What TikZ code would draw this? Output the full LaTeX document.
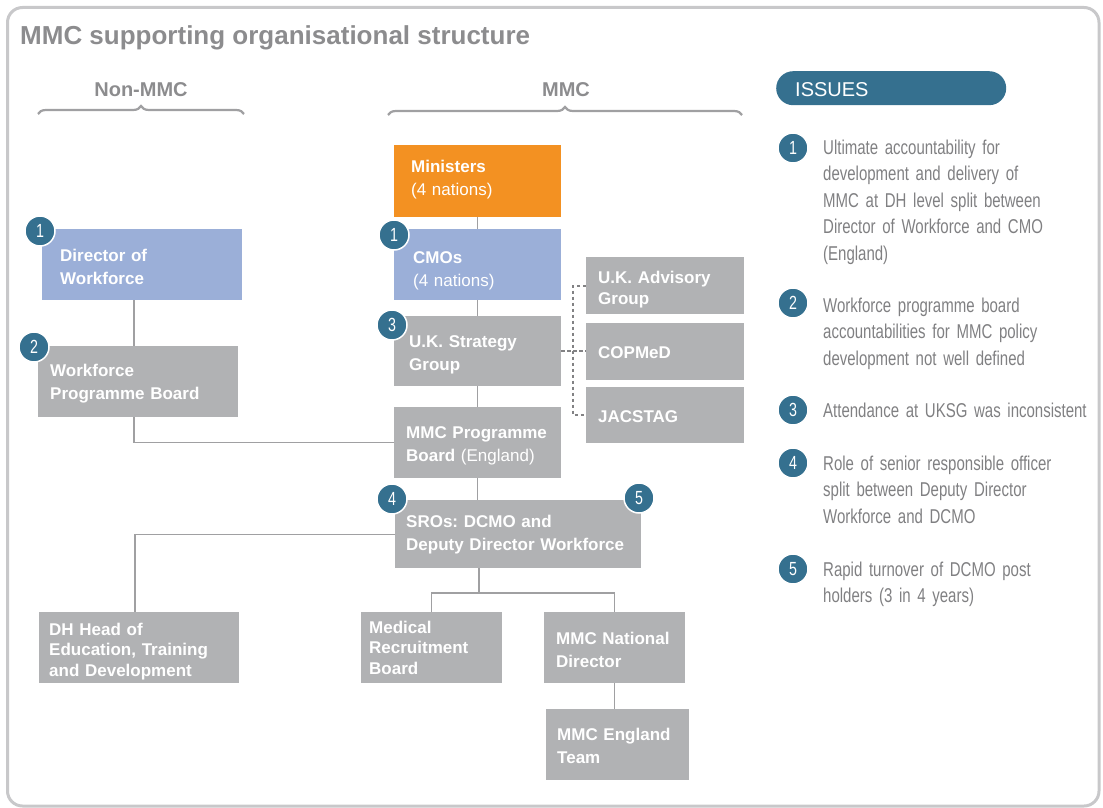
\documentclass[tikz,border=0pt]{standalone}
\usepackage{fontspec}
\setmainfont{Liberation Sans}
\newfontfamily\condfont[FakeStretch=0.75]{Liberation Sans}
\usetikzlibrary{decorations.pathreplacing}
\definecolor{boxgrey}{RGB}{177,178,180}
\definecolor{boxblue}{RGB}{155,175,216}
\definecolor{boxorange}{RGB}{243,145,34}
\definecolor{badgeblue}{RGB}{53,112,143}
\definecolor{titlegrey}{RGB}{140,140,142}
\definecolor{textgrey}{RGB}{128,128,130}
\definecolor{linegrey}{RGB}{160,160,162}
\definecolor{framegrey}{RGB}{200,200,202}
\definecolor{dashgrey}{RGB}{130,130,132}
\frenchspacing
\begin{document}
\begin{tikzpicture}[x=1pt,y=-1pt,
  box/.style={anchor=north west, inner ysep=0pt, align=left, text=white,
    font=\fontsize{17}{23}\selectfont\bfseries},
  box3/.style={box, font=\fontsize{17}{20.5}\selectfont\bfseries},
  badge/.style={circle, fill=badgeblue, draw=white, line width=1.5pt,
    minimum size=30pt, inner sep=0pt, text=white,
    font=\condfont\fontsize{19}{19}\selectfont},
  issue/.style={anchor=base west, inner sep=0pt, text width=300pt, align=left,
    text=textgrey, font=\condfont\fontsize{20}{26.5}\selectfont},
  hdr/.style={anchor=base, inner sep=0pt, text=titlegrey,
    font=\fontsize{20}{20}\selectfont\bfseries},
  conn/.style={draw=linegrey, line width=1.3pt},
  dconn/.style={draw=dashgrey, line width=1.6pt, dash pattern=on 3.5pt off 2.5pt},
  brc/.style={draw=linegrey, line width=2.2pt, decorate,
    decoration={brace, amplitude=8pt}}
]
\useasboundingbox (0,0) rectangle (1103,808);
% frame
\draw[framegrey, line width=3pt, rounded corners=15pt] (7.5,7.5) rectangle (1099,806);

% title
\node[anchor=base west, inner sep=0pt, text=titlegrey,
  font=\fontsize{26}{26}\selectfont\bfseries] (title) at (20,45)
  {MMC supporting organisational structure};

% headers and braces
\node[hdr] (hnon) at (141,96) {Non-MMC};
\node[hdr] (hmmc) at (566,96) {MMC};
\draw[brc] (38,114) -- (244,114);
\draw[brc] (388,115) -- (742,115);

% boxes
\node[box, fill=boxorange, text width=133pt, inner xsep=17pt,
  text height=27pt, text depth=45pt] (min) at (394,145)
  {Ministers\\\mdseries(4 nations)};
\node[box, fill=boxblue, text width=129pt, inner xsep=19pt,
  text height=34pt, text depth=37pt] (cmo) at (394,229)
  {CMOs\\\mdseries(4 nations)};
\node[box, fill=boxblue, text width=164pt, inner xsep=18pt,
  text height=32pt, text depth=39pt] (dow) at (42,229)
  {Director of\\Workforce};
\node[box, fill=boxgrey, text width=137pt, inner xsep=15pt,
  text height=31pt, text depth=39pt] (uksg) at (394,316)
  {U.K. Strategy\\Group};
\node[box, fill=boxgrey, text width=143pt, inner xsep=12pt,
  text height=31pt, text depth=40pt] (mpb) at (394,407)
  {MMC Programme\\Board {\mdseries(England)}};
\node[box, fill=boxgrey, text width=224pt, inner xsep=11pt,
  text height=27pt, text depth=41pt] (sro) at (395,500)
  {SROs: DCMO and\\Deputy Director Workforce};
\node[box, fill=boxgrey, text width=134pt, inner xsep=12pt,
  text height=26pt, text depth=31pt,
  font=\fontsize{17}{21}\selectfont\bfseries] (ukag) at (586,257)
  {U.K. Advisory\\Group};
\node[box, fill=boxgrey, text width=134pt, inner xsep=12pt,
  text height=35pt, text depth=22pt] (copmed) at (586,323) {COPMeD};
\node[box, fill=boxgrey, text width=134pt, inner xsep=12pt,
  text height=35pt, text depth=21pt] (jac) at (586,387) {JACSTAG};
\node[box, fill=boxgrey, text width=176pt, inner xsep=12pt,
  text height=30pt, text depth=41pt] (wpb) at (38,346)
  {Workforce\\Programme Board};
\node[box3, fill=boxgrey, text width=180pt, inner xsep=10pt,
  text height=23pt, text depth=48pt] (dh) at (39,612)
  {DH Head of\\Education, Training\\and Development};
\node[box3, fill=boxgrey, text width=125pt, inner xsep=8pt,
  text height=21pt, text depth=50pt] (mrb) at (361,612)
  {Medical\\Recruitment\\Board};
\node[box, fill=boxgrey, text width=117pt, inner xsep=12pt,
  text height=32pt, text depth=39pt] (mnd) at (544,612)
  {MMC National\\Director};
\node[box, fill=boxgrey, text width=121pt, inner xsep=11pt,
  text height=31pt, text depth=40pt] (met) at (546,709)
  {MMC England\\Team};

% connectors
\coordinate (jn) at (479,593);
\coordinate (dv) at (573,352);
\draw[conn] (min) -- (cmo);
\draw[conn] (cmo) -- (uksg);
\draw[conn] (uksg) -- (mpb);
\draw[conn] (mpb.south) -- (mpb.south |- sro.north);
\draw[conn] ([xshift=92pt]dow.south west) -- ([xshift=92pt]dow.south west |- wpb.north);
\draw[conn] ([xshift=96pt]wpb.south west) |- (mpb.west);
\draw[conn] (sro.west) -| ([xshift=96pt]dh.north west);
\draw[conn] ([xshift=84pt]sro.south west) -- (jn);
\draw[conn] (mrb.north) -- (mrb.north |- jn) -- (mnd.north |- jn) -- (mnd.north);
\draw[conn] (mnd.south) -- (mnd.south |- met.north);
\draw[dconn] (uksg.east) -- (uksg.east -| copmed.west);
\draw[dconn] (ukag.west) -| (dv) |- (jac.west);

% badges on boxes
\node[badge] (bdow) at (40,231) {1};
\node[badge] (bcmo) at (394,235) {1};
\node[badge] (bwpb) at (34,347) {2};
\node[badge] (buksg) at (392,325) {3};
\node[badge] (bsro4) at (392,499) {4};
\node[badge] (bsro5) at (639,498) {5};

% issues panel
\node[anchor=north west, fill=badgeblue, rounded corners=17pt,
  minimum height=34pt, text width=192pt, inner xsep=19pt, inner ysep=0pt,
  text height=25pt, text depth=9pt, align=left, text=white,
  font=\fontsize{20}{20}\selectfont] (issues) at (776,71) {ISSUES};

\node[badge] (i1) at (793,148) {1};
\node[issue] (t1) at (823,154) {Ultimate accountability for\\development and delivery of\\MMC at DH level split between\\Director of Workforce and CMO\\(England)};
\node[badge] (i2) at (793,303) {2};
\node[issue] (t2) at (823,312) {Workforce programme board\\accountabilities for MMC policy\\development not well defined};
\node[badge] (i3) at (793,410) {3};
\node[issue] (t3) at (823,417) {Attendance at UKSG was inconsistent};
\node[badge] (i4) at (793,463) {4};
\node[issue] (t4) at (823,470) {Role of senior responsible officer\\split between Deputy Director\\Workforce and DCMO};
\node[badge] (i5) at (793,569) {5};
\node[issue] (t5) at (823,576) {Rapid turnover of DCMO post\\holders (3 in 4 years)};
\end{tikzpicture}
\end{document}
